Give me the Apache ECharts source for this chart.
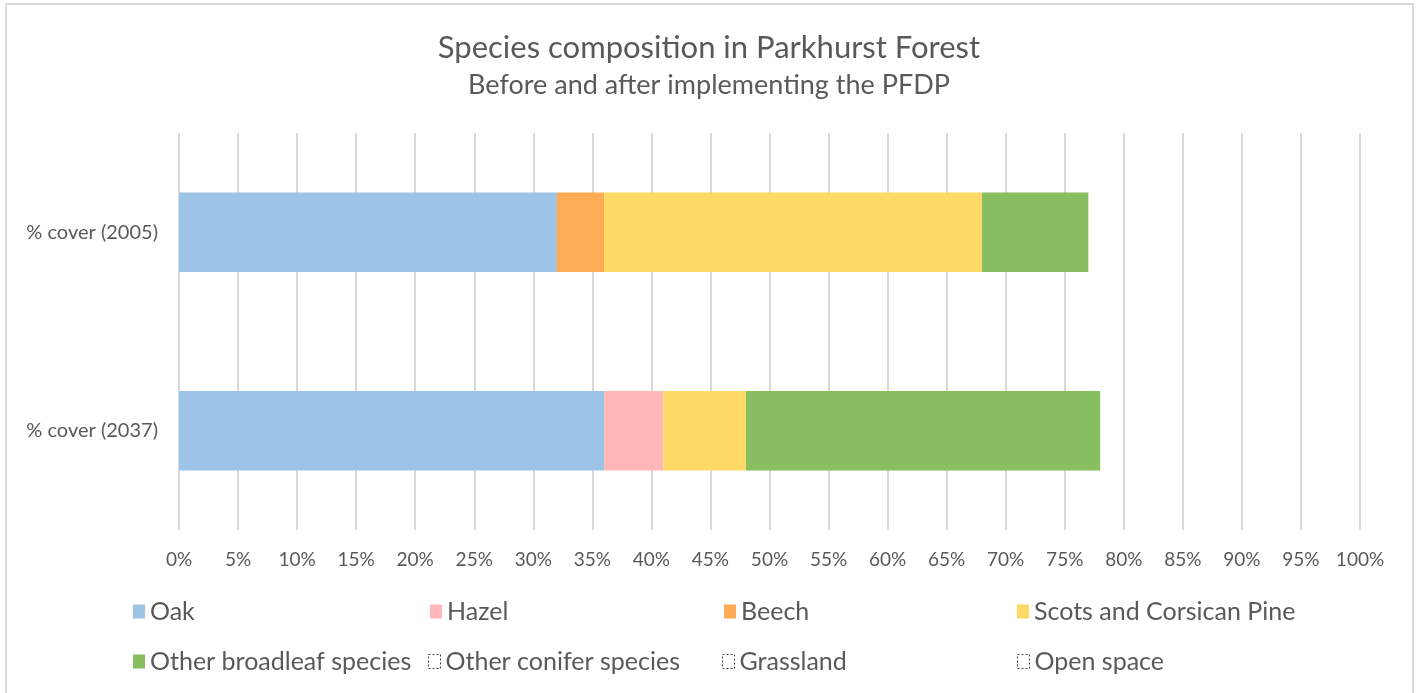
<!DOCTYPE html>
<html>
<head>
<meta charset="utf-8">
<script src="https://cdn.jsdelivr.net/npm/echarts@6/dist/echarts.min.js"></script>
<style>
  html, body { margin: 0; padding: 0; background: #fff; }
  #chart { width: 1418px; height: 693px; }
</style>
</head>
<body>
<div id="chart"></div>
<script>
// data (percent cover)
var categories = ['% cover (2005)', '% cover (2037)'];
var seriesNames = ['Oak', 'Hazel', 'Beech', 'Scots and Corsican Pine',
  'Other broadleaf species', 'Other conifer species', 'Grassland', 'Open space'];
var oak = [32, 36];
var hazel = [0, 5];
var beech = [4, 0];
var scotsPine = [32, 7];
var otherBroadleaf = [9, 30];
var otherConifer = [null, null];
var grassland = [null, null];
var openSpace = [null, null];
var xTicks = [0, 5, 10, 15, 20, 25, 30, 35, 40, 45, 50, 55, 60, 65, 70, 75, 80, 85, 90, 95, 100];

var seriesData = [oak, hazel, beech, scotsPine, otherBroadleaf, otherConifer, grassland, openSpace];
var colors = ['#9dc3e6', '#ffb6b9', '#ffaa55', '#ffd966', '#88be5f', 'transparent', 'transparent', 'transparent'];

var fontFam = 'Lato, "Open Sans", sans-serif';
var textColor = '#595959';

// legend laid out in a grid like the original
var legendPos = [
  [128, 594], [425, 594], [719, 594], [1012, 594],
  [128, 644], [423, 644], [717, 644], [1012, 644]
];

var legends = seriesNames.map(function (name, i) {
  var item = { name: name };
  if (colors[i] === 'transparent') {
    item.itemStyle = { color: 'transparent', borderColor: '#404040', borderWidth: 1, borderType: [2, 2] };
  }
  return {
    left: legendPos[i][0],
    top: legendPos[i][1],
    icon: 'rect',
    itemWidth: 12,
    itemHeight: 14,
    selectedMode: false,
    textStyle: { fontSize: 25, color: textColor, fontFamily: fontFam },
    data: [item]
  };
});

var chart = echarts.init(document.getElementById('chart'));
chart.setOption({
  backgroundColor: '#fff',
  animation: false,
  title: {
    text: 'Species composition in Parkhurst Forest',
    subtext: 'Before and after implementing the PFDP',
    left: 'center',
    top: 27,
    itemGap: 9,
    textStyle: { fontSize: 31, fontWeight: 'normal', color: textColor, fontFamily: fontFam },
    subtextStyle: { fontSize: 27, color: textColor, fontFamily: fontFam }
  },
  graphic: [{
    type: 'rect',
    shape: { x: 6, y: 4, width: 1407, height: 720 },
    style: { fill: 'none', stroke: '#d9d9d9', lineWidth: 2 },
    silent: true
  }],
  legend: legends,
  grid: { left: 179, right: 58, top: 133, height: 397 },
  xAxis: {
    type: 'value',
    min: xTicks[0],
    max: xTicks[xTicks.length - 1],
    interval: 5,
    axisLine: { show: false },
    axisTick: { show: false },
    axisLabel: { formatter: '{value}%', fontSize: 19, color: textColor, fontFamily: fontFam, margin: 20 },
    splitLine: { show: true, lineStyle: { color: '#d9d9d9', width: 2 } }
  },
  yAxis: {
    type: 'category',
    inverse: true,
    data: categories,
    axisLine: { show: false },
    axisTick: { show: false },
    axisLabel: { fontSize: 20, color: textColor, fontFamily: fontFam, margin: 21 }
  },
  series: seriesNames.map(function (name, i) {
    return {
      name: name,
      type: 'bar',
      stack: 'cover',
      barCategoryGap: '60%',
      itemStyle: { color: colors[i] },
      data: seriesData[i]
    };
  })
});
</script>
</body>
</html>
